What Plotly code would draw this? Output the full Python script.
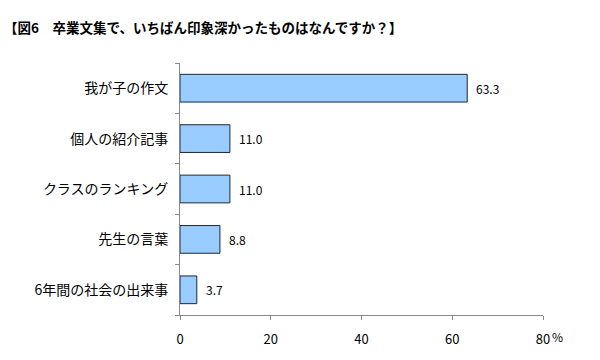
import plotly.graph_objects as go

title_text = "【図6　卒業文集で、いちばん印象深かったものはなんですか？】"
categories = ["我が子の作文", "個人の紹介記事", "クラスのランキング", "先生の言葉", "6年間の社会の出来事"]
values = [63.3, 11.0, 11.0, 8.8, 3.7]
tick_vals = [0, 20, 40, 60, 80]
tick_text = ["0", "20", "40", "60", "80"]

FONT = "Noto Sans CJK JP"

fig = go.Figure()
fig.add_trace(go.Bar(
    x=values,
    y=categories,
    orientation="h",
    marker=dict(color="#99CCFF", line=dict(color="#1c2838", width=1)),
    width=0.55,
    hoverinfo="skip",
))

for v, c in zip(values, categories):
    fig.add_annotation(
        x=v, y=c, xref="x", yref="y",
        text=f"{v:.1f}", showarrow=False,
        xanchor="left", xshift=7,
        font=dict(family=FONT, size=12, color="#000000"),
    )

fig.add_annotation(
    x=1, y=0, xref="paper", yref="paper",
    text="%", showarrow=False, xanchor="left", yanchor="middle",
    xshift=7, yshift=-21,
    font=dict(family=FONT, size=12, color="#000000"),
)

fig.update_layout(
    width=600, height=360,
    margin=dict(l=180, r=57, t=63, b=32),
    paper_bgcolor="white", plot_bgcolor="white",
    showlegend=False,
    title=dict(
        text=f"<b>{title_text}</b>",
        x=4 / 600, xanchor="left", xref="container",
        y=1 - 28 / 360, yanchor="middle", yref="container",
        font=dict(family=FONT, size=13.5, color="#000000"),
    ),
    xaxis=dict(
        range=[0, 80],
        tickvals=tick_vals, ticktext=tick_text,
        showgrid=False, zeroline=False,
        showline=True, linecolor="#888888", linewidth=1,
        ticks="outside", ticklen=4, tickcolor="#888888",
        ticklabelstandoff=8,
        tickfont=dict(family=FONT, size=13, color="#000000"),
        fixedrange=True,
    ),
    yaxis=dict(
        categoryorder="array", categoryarray=categories[::-1],
        showgrid=False, zeroline=False,
        showline=True, linecolor="#888888", linewidth=1,
        ticks="outside", ticklen=4, tickcolor="#888888",
        tickson="boundaries",
        tickfont=dict(family=FONT, size=14, color="#000000"),
        ticklabelstandoff=8,
        fixedrange=True,
    ),
)

fig.write_html("out.html")
